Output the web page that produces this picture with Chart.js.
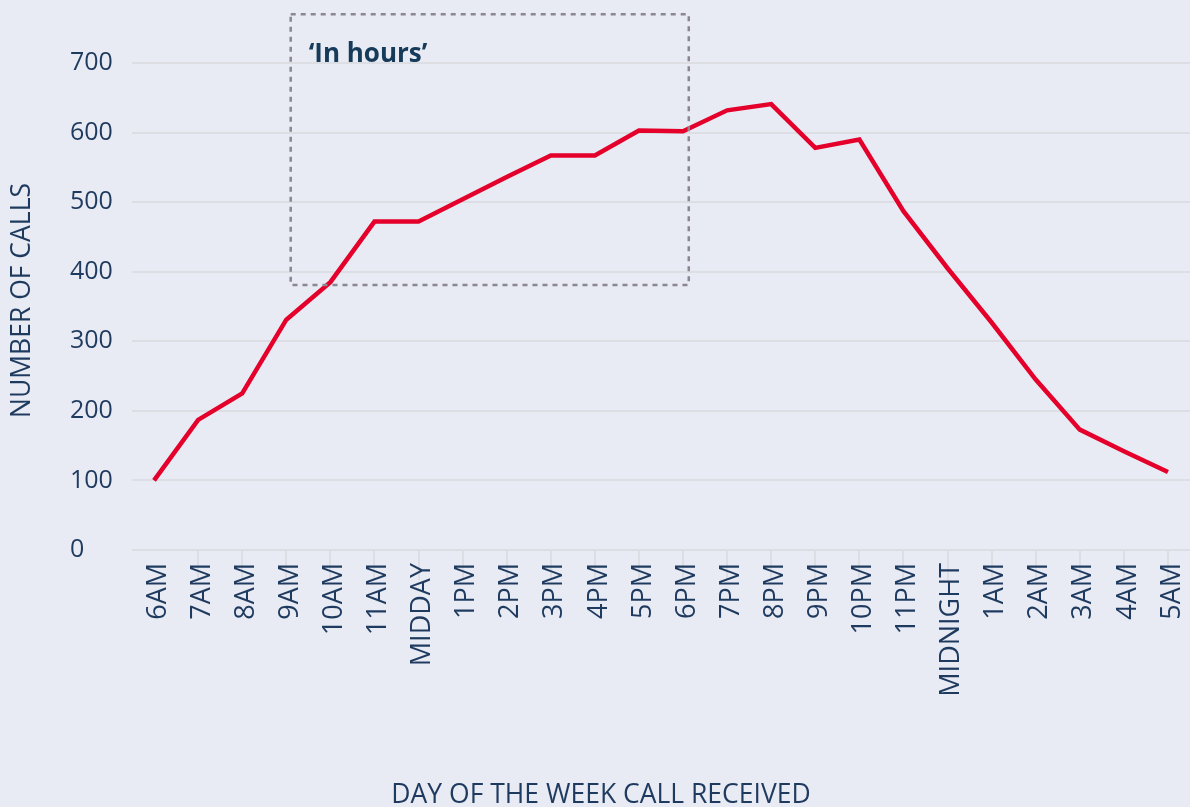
<!DOCTYPE html>
<html>
<head>
<meta charset="utf-8">
<script src="https://cdn.jsdelivr.net/npm/chart.js@4"></script>
<style>
  html, body { margin: 0; padding: 0; background: #e8ebf3; }
  #wrap { width: 1190px; height: 807px; }
</style>
</head>
<body>
<div id="wrap"><canvas id="callsChart" width="1190" height="807"></canvas></div>
<script>
const hours = [
  '6AM', '7AM', '8AM', '9AM', '10AM', '11AM', 'MIDDAY', '1PM', '2PM', '3PM', '4PM', '5PM',
  '6PM', '7PM', '8PM', '9PM', '10PM', '11PM', 'MIDNIGHT', '1AM', '2AM', '3AM', '4AM', '5AM'
];

const calls = [
  100, 187, 225, 331, 385, 472, 472, 504, 536, 567, 567, 603,
  602, 632, 641, 578, 590, 487, 405, 327, 245, 173, 142, 112
];

// dotted "in hours" box, roughly 9AM -> 6PM (category index positions)
const inHoursSpan = [3.1, 12.13];
const inHoursRange = [381, 770];
const inHoursLabel = '\u2018In hours\u2019';

const xTitleText = 'DAY OF THE WEEK CALL RECEIVED';
const yTitleText = 'NUMBER OF CALLS';

const navy = '#1f3a5f';
const gridColor = '#dcdee4';
const font = 'Open Sans';

const inHoursBox = {
  id: 'inHoursBox',
  afterDraw(chart) {
    const { ctx, scales: { x, y } } = chart;
    const left = x.getPixelForValue(inHoursSpan[0]);
    const right = x.getPixelForValue(inHoursSpan[1]);
    const top = y.getPixelForValue(inHoursRange[1]);
    const bottom = y.getPixelForValue(inHoursRange[0]);
    ctx.save();
    ctx.strokeStyle = '#8a8792';
    ctx.lineWidth = 2.5;
    ctx.setLineDash([5, 5]);
    ctx.strokeRect(left, top, right - left, bottom - top);
    ctx.setLineDash([]);
    ctx.fillStyle = '#163a5a';
    ctx.font = 'bold 26px "' + font + '"';
    ctx.textBaseline = 'alphabetic';
    ctx.fillText(inHoursLabel, left + 18, top + 48);
    ctx.restore();
  }
};

// axis titles drawn by hand: y labels stay left aligned, x title sits
// centred on the page rather than on the plot
const axisTitles = {
  id: 'axisTitles',
  afterDraw(chart) {
    const { ctx, chartArea } = chart;
    ctx.save();
    ctx.fillStyle = navy;
    ctx.font = '26.5px "' + font + '"';
    ctx.textAlign = 'center';
    ctx.textBaseline = 'alphabetic';
    ctx.fillText(xTitleText, 601, 803);

    ctx.translate(22, (chartArea.top + chartArea.bottom) / 2 - 6);
    ctx.rotate(-Math.PI / 2);
    ctx.textBaseline = 'middle';
    ctx.fillText(yTitleText, 0, 0);
    ctx.restore();
  }
};

const config = {
  type: 'line',
  data: {
    labels: hours,
    datasets: [{
      label: 'Calls',
      data: calls,
      borderColor: '#e4002b',
      backgroundColor: '#e4002b',
      borderWidth: 4.5,
      borderJoinStyle: 'miter',
      pointRadius: 0,
      tension: 0
    }]
  },
  options: {
    responsive: false,
    animation: false,
    layout: { padding: { top: 63, left: 70, right: 0, bottom: 106 } },
    plugins: {
      legend: { display: false },
      tooltip: { enabled: false },
      title: { display: false }
    },
    scales: {
      x: {
        offset: true,
        border: { display: false },
        afterFit: (scale) => { scale.height = 151; },
        grid: {
          drawOnChartArea: false,
          drawTicks: true,
          tickLength: 30,
          lineWidth: 2,
          color: (c) => c.index === 0 ? 'rgba(0,0,0,0)' : gridColor
        },
        ticks: {
          autoSkip: false,
          minRotation: 90,
          maxRotation: 90,
          padding: -17,
          labelOffset: 4,
          color: navy,
          font: { family: font, size: 27 }
        }
      },
      y: {
        min: 0,
        max: 700,
        border: { display: false },
        afterFit: (scale) => { scale.width = 62; },
        grid: { drawTicks: false, lineWidth: 2, color: gridColor },
        ticks: {
          stepSize: 100,
          crossAlign: 'far',
          padding: 20,
          color: navy,
          font: { family: font, size: 25 }
        }
      }
    }
  },
  plugins: [inHoursBox, axisTitles]
};

const ctx = document.getElementById('callsChart').getContext('2d');
const callsChart = new Chart(ctx, config);
</script>
</body>
</html>
